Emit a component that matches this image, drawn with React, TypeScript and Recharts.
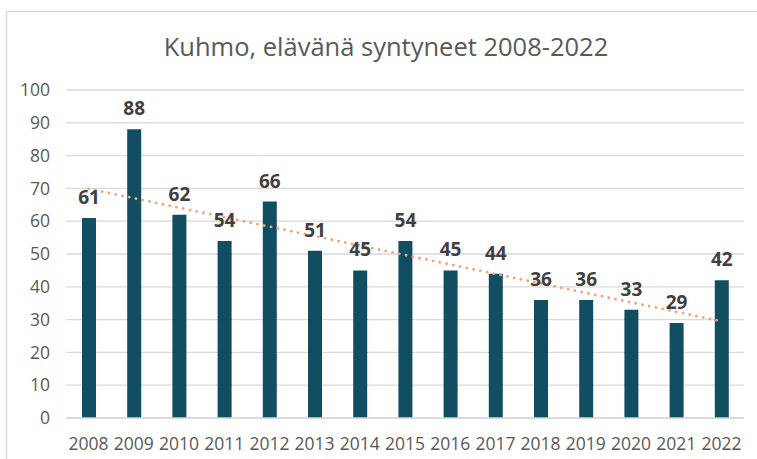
import React from "react";
import { ComposedChart, Bar, Line, XAxis, YAxis, CartesianGrid, LabelList } from "recharts";

const years = ["2008","2009","2010","2011","2012","2013","2014","2015","2016","2017","2018","2019","2020","2021","2022"];
const births = [61, 88, 62, 54, 66, 51, 45, 54, 45, 44, 36, 36, 33, 29, 42];
// linear trendline endpoints
const trend: (number | null)[] = [69.9, null, null, null, null, null, null, null, null, null, null, null, null, null, 29.5];
const yTicks = [0, 10, 20, 30, 40, 50, 60, 70, 80, 90, 100];
const title = "Kuhmo, elävänä syntyneet 2008-2022";

const data = years.map((y, i) => ({ year: y, births: births[i], trend: trend[i] }));

const FONT = "'Open Sans', sans-serif";

export default function App() {
  return (
    <div style={{ position: "absolute", left: 0, top: 0, width: 757, height: 459, background: "#fff" }}>
      <svg width={757} height={459} style={{ position: "absolute", left: 0, top: 0 }}>
        <line x1={6.5} y1={11.5} x2={757} y2={11.5} stroke="#d9d9d9" strokeWidth={1.5} />
        <line x1={6.5} y1={11.5} x2={6.5} y2={459} stroke="#d9d9d9" strokeWidth={1.5} />
        <text x={386} y={56} textAnchor="middle" fontFamily={FONT} fontSize={25.5} fill="#595959">{title}</text>
      </svg>
      <div style={{ position: "absolute", left: 0, top: 0 }}>
        <ComposedChart width={757} height={459} data={data} margin={{ top: 90, right: 13, bottom: 0, left: 0 }}>
          <CartesianGrid vertical={false} stroke="#d9d9d9" strokeWidth={1.3} />
          <XAxis
            dataKey="year"
            axisLine={{ stroke: "#d9d9d9", strokeWidth: 1.3 }}
            tickLine={false}
            tickSize={0}
            tickMargin={20}
            interval={0}
            tick={{ fill: "#595959", fontSize: 17.5, fontFamily: FONT }}
            height={41}
          />
          <YAxis
            domain={[0, 100]}
            ticks={yTicks}
            width={66}
            axisLine={false}
            tickLine={false}
            tickSize={0}
            tickMargin={16}
            interval={0}
            tick={{ fill: "#595959", fontSize: 17.5, fontFamily: FONT }}
          />
          <Bar dataKey="births" fill="#124e61" barSize={14} isAnimationActive={false}>
            <LabelList dataKey="births" position="top" offset={14} fill="#404040" fontSize={19} fontWeight="bold" fontFamily={FONT} />
          </Bar>
          <Line
            dataKey="trend"
            type="linear"
            connectNulls
            stroke="#f3a27a"
            strokeWidth={2.8}
            strokeDasharray="0.1 6.8"
            strokeLinecap="round"
            dot={false}
            activeDot={false}
            isAnimationActive={false}
          />
        </ComposedChart>
      </div>
    </div>
  );
}
